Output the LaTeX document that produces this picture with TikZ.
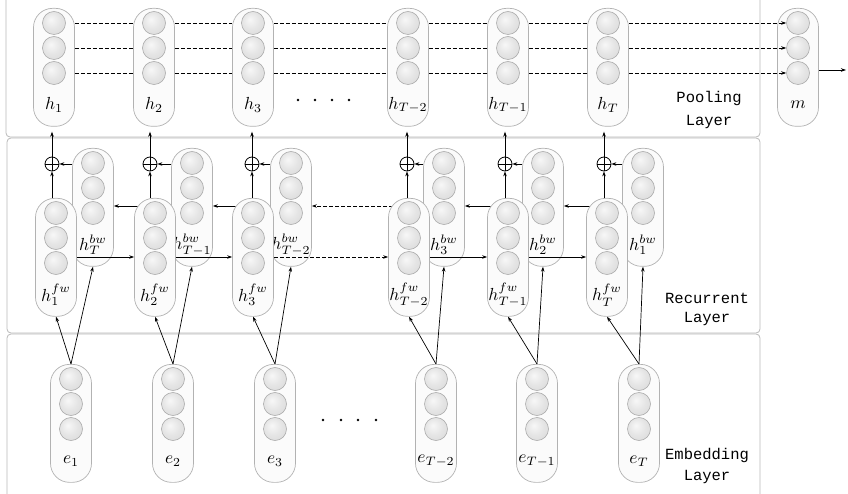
\documentclass[tikz,border=0pt]{standalone}
\usepackage{graphicx}
\usepackage{fontspec}
\setmonofont{Liberation Mono}
\usetikzlibrary{arrows.meta,calc}
\pgfdeclareradialshading{neushade}{\pgfpoint{-7bp}{8bp}}{color(0bp)=(gray!6); color(18bp)=(gray!20); color(36bp)=(gray!30); color(50bp)=(gray!50)}
\tikzset{
 capsule/.style={draw=gray!60, fill=gray!3, rounded corners=19pt, minimum width=41pt, minimum height=118pt, inner sep=0pt, line width=0.7pt},
 neuron/.style={circle, draw=gray!65, shading=neushade, minimum size=23pt, inner sep=0pt, line width=0.6pt},
 lab/.style={inner sep=0pt},
 layerbox/.style={draw=gray!55, rounded corners=4pt, line width=0.8pt},
 layertxt/.style={font=\fontsize{15.5}{18}\selectfont\ttfamily, inner sep=0pt},
 arr/.style={-{Stealth[length=5pt,width=3.5pt]}, line width=0.7pt},
 dsh/.style={dash pattern=on 4pt off 2pt, line width=0.7pt},
 oplusnode/.style={circle, draw, line width=0.8pt, minimum size=14pt, inner sep=0pt, path picture={\draw[line width=0.8pt] (path picture bounding box.north) -- (path picture bounding box.south) (path picture bounding box.west) -- (path picture bounding box.east);}},
 dotnode/.style={circle, fill, inner sep=0pt, minimum size=2.6pt},
}
\newcommand{\mn}{\mathord{-}}
\newcommand{\mkcap}[4]{%
 \node[capsule, anchor=north] (#1) at (#2,#3) {};
 \node[neuron] (#1-1) at ($(#1.north)+(0,15)$) {};
 \node[neuron] (#1-2) at ($(#1.north)+(0,40)$) {};
 \node[neuron] (#1-3) at ($(#1.north)+(0,65)$) {};
 \node[lab] (#1-l) at ($(#1.north)+(0,97)$) {\scalebox{1.75}{#4}};
}
\begin{document}
\begin{tikzpicture}[x=1pt,y=-1pt]
\useasboundingbox (0,0) rectangle (848,494);
% layer boxes
\draw[layerbox] (6,-5) rectangle (760,137);
\draw[layerbox] (7,138) rectangle (760,333);
\draw[layerbox] (7,334) rectangle (760,505);
% pooling layer
\mkcap{h1}{54}{8}{$h_1$}
\mkcap{h2}{154}{8}{$h_2$}
\mkcap{h3}{253}{8}{$h_3$}
\mkcap{hT2}{408}{8}{$h_{T\mn2}$}
\mkcap{hT1}{508}{8}{$h_{T\mn1}$}
\mkcap{hT}{608}{8}{$h_T$}
\mkcap{m}{798}{8}{$m$}
\foreach \k in {1,2,3}{
 \draw[dsh] (h1.east |- h1-\k) -- (h2.west |- h2-\k);
 \draw[dsh] (h2.east |- h2-\k) -- (h3.west |- h3-\k);
 \draw[dsh] (h3.east |- h3-\k) -- (hT2.west |- hT2-\k);
 \draw[dsh] (hT2.east |- hT2-\k) -- (hT1.west |- hT1-\k);
 \draw[dsh] (hT1.east |- hT1-\k) -- (hT.west |- hT-\k);
 \draw[dsh,arr] (hT.east |- hT-\k) -- (m-\k.west);
}
\coordinate (outc) at (846,70);
\draw[arr] ($(m.north east)+(0,62)$) -- (outc);
% recurrent layer: backward
\mkcap{hbT}{93}{148}{$h_T^{bw}$}
\mkcap{hbTm1}{192}{148}{$h_{T\mn1}^{bw}$}
\mkcap{hbTm2}{291}{148}{$h_{T\mn2}^{bw}$}
\mkcap{hb3}{444}{148}{$h_3^{bw}$}
\mkcap{hb2}{543}{148}{$h_2^{bw}$}
\mkcap{hb1}{643}{148}{$h_1^{bw}$}
\draw[arr] ($(hbTm1.north west)+(0,58)$) -- ($(hbT.north east)+(0,58)$);
\draw[arr] ($(hbTm2.north west)+(0,58)$) -- ($(hbTm1.north east)+(0,58)$);
\draw[arr,dsh] ($(hb3.north west)+(0,58)$) -- ($(hbTm2.north east)+(0,58)$);
\draw[arr] ($(hb2.north west)+(0,58)$) -- ($(hb3.north east)+(0,58)$);
\draw[arr] ($(hb1.north west)+(0,58)$) -- ($(hb2.north east)+(0,58)$);
% forward
\mkcap{hf1}{56}{198}{$h_1^{fw}$}
\mkcap{hf2}{155}{198}{$h_2^{fw}$}
\mkcap{hf3}{253}{198}{$h_3^{fw}$}
\mkcap{hfT2}{409}{198}{$h_{T\mn2}^{fw}$}
\mkcap{hfT1}{508}{198}{$h_{T\mn1}^{fw}$}
\mkcap{hfT}{607}{198}{$h_T^{fw}$}
\draw[arr] ($(hf1.north east)+(0,59)$) -- ($(hf2.north west)+(0,59)$);
\draw[arr] ($(hf2.north east)+(0,59)$) -- ($(hf3.north west)+(0,59)$);
\draw[arr,dsh] ($(hf3.north east)+(0,59)$) -- ($(hfT2.north west)+(0,59)$);
\draw[arr] ($(hfT2.north east)+(0,59)$) -- ($(hfT1.north west)+(0,59)$);
\draw[arr] ($(hfT1.north east)+(0,59)$) -- ($(hfT.north west)+(0,59)$);
% oplus
\node[oplusnode] (o1) at (52,164) {};
\node[oplusnode] (o2) at (150,164) {};
\node[oplusnode] (o3) at (252,164) {};
\node[oplusnode] (oT2) at (407,164) {};
\node[oplusnode] (oT1) at (505,164) {};
\node[oplusnode] (oT) at (604,164) {};
\foreach \o/\f/\b/\h in {o1/hf1/hbT/h1, o2/hf2/hbTm1/h2, o3/hf3/hbTm2/h3, oT2/hfT2/hb3/hT2, oT1/hfT1/hb2/hT1, oT/hfT/hb1/hT}{
 \draw[arr] (\o |- \f.north) -- (\o.south);
 \draw[arr] (\b.west |- \o) -- (\o.east);
 \draw[arr] (\o.north) -- ($(\o |- \h.south)+(0,5)$);
}
% embedding layer
\mkcap{e1}{71}{364}{$e_1$}
\mkcap{e2}{173}{364}{$e_2$}
\mkcap{e3}{275}{364}{$e_3$}
\mkcap{eT2}{436}{364}{$e_{T\mn2}$}
\mkcap{eT1}{537}{364}{$e_{T\mn1}$}
\mkcap{eT}{639}{364}{$e_T$}
\foreach \e/\f/\b in {e1/hf1/hbT, e2/hf2/hbTm1, e3/hf3/hbTm2, eT2/hfT2/hb3, eT1/hfT1/hb2, eT/hfT/hb1}{
 \draw[arr] (\e.north) -- (\f.south);
 \draw[arr] (\e.north) -- (\b.south);
}
% dots
\foreach \x [count=\i] in {298,315,332,349}{\node[dotnode] (pd\i) at (\x,100) {};}
\foreach \x [count=\i] in {323,341,358,376}{\node[dotnode] (ed\i) at (\x,420) {};}
% layer labels
\node[layertxt] (tp1) at (709,98) {Pooling};
\node[layertxt] (tp2) at (709,122) {Layer};
\node[layertxt] (tr1) at (707,298) {Recurrent};
\node[layertxt] (tr2) at (707,319) {Layer};
\node[layertxt] (te1) at (707,455) {Embedding};
\node[layertxt] (te2) at (707,477) {Layer};
\end{tikzpicture}
\end{document}
